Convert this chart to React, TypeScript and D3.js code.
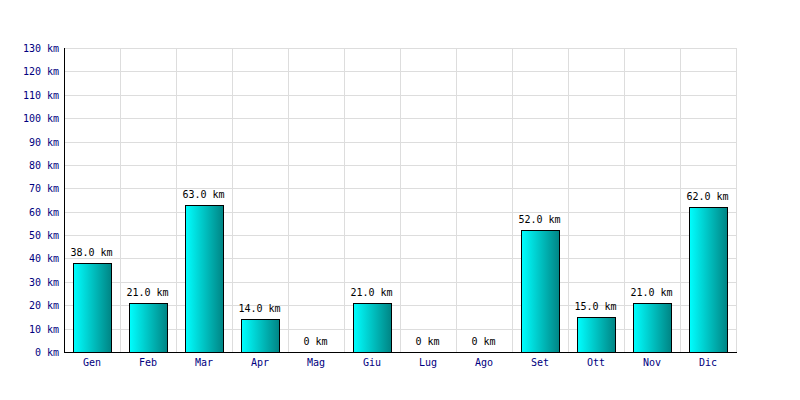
import React from "react";
import * as d3 from "d3";

const months = ["Gen", "Feb", "Mar", "Apr", "Mag", "Giu", "Lug", "Ago", "Set", "Ott", "Nov", "Dic"];
const km = [38, 21, 63, 14, 0, 21, 0, 0, 52, 15, 21, 62];
const yTicks = [0, 10, 20, 30, 40, 50, 60, 70, 80, 90, 100, 110, 120, 130];

export default function App() {
  const W = 800, H = 400;
  const left = 64, right = 736, top = 48, bottom = 352;
  const x = d3.scaleBand<string>().domain(months).range([left, right]).paddingInner(0).paddingOuter(0);
  const y = d3.scaleLinear().domain([0, 130]).range([bottom, top]);
  const bw = x.bandwidth();
  const barW = 38;
  const font = "'DejaVu Sans Mono', monospace";
  return (
    <svg width={W} height={H} style={{ position: "absolute", left: 0, top: 0, background: "#fff" }}>
      <defs>
        <linearGradient id="g" x1="0" x2="1" y1="0" y2="0">
          <stop offset="0" stopColor="#00ffff" />
          <stop offset="1" stopColor="#008484" />
        </linearGradient>
      </defs>
      <rect x={0} y={0} width={W} height={H} fill="#fff" />
      {yTicks.map((t) => (
        <line key={"h" + t} x1={left} x2={right + 1} y1={Math.round(y(t)) + 0.5} y2={Math.round(y(t)) + 0.5} stroke="#dddddd" />
      ))}
      {months.map((m) => (
        <line key={"v" + m} x1={Math.round((x(m) as number) + bw) + 0.5} x2={Math.round((x(m) as number) + bw) + 0.5} y1={top} y2={bottom} stroke="#dddddd" />
      ))}
      {months.map((m, i) => {
        const cx = (x(m) as number) + bw / 2;
        const v = km[i];
        const yt = Math.round(y(v));
        return (
          <g key={m}>
            {v > 0 && (
              <rect x={Math.round(cx - barW / 2) + 0.5} y={yt + 0.5} width={barW} height={bottom - yt} fill="url(#g)" stroke="#000" strokeWidth={1} />
            )}
            <text x={cx - 0.5} y={yt - 7} textAnchor="middle" fontFamily={font} fontSize={10} fill="#000">
              {v.toFixed(v > 0 ? 1 : 0) + " km"}
            </text>
            <text x={cx} y={366} textAnchor="middle" fontFamily={font} fontSize={10} fill="#000080">
              {m}
            </text>
          </g>
        );
      })}
      <line x1={left + 0.5} x2={left + 0.5} y1={top} y2={bottom + 1} stroke="#000" />
      <line x1={left} x2={right + 1} y1={bottom + 0.5} y2={bottom + 0.5} stroke="#000" />
      {yTicks.map((t) => (
        <text key={"t" + t} x={59} y={y(t) + 4} textAnchor="end" fontFamily={font} fontSize={10} fill="#000080">
          {t + " km"}
        </text>
      ))}
    </svg>
  );
}
